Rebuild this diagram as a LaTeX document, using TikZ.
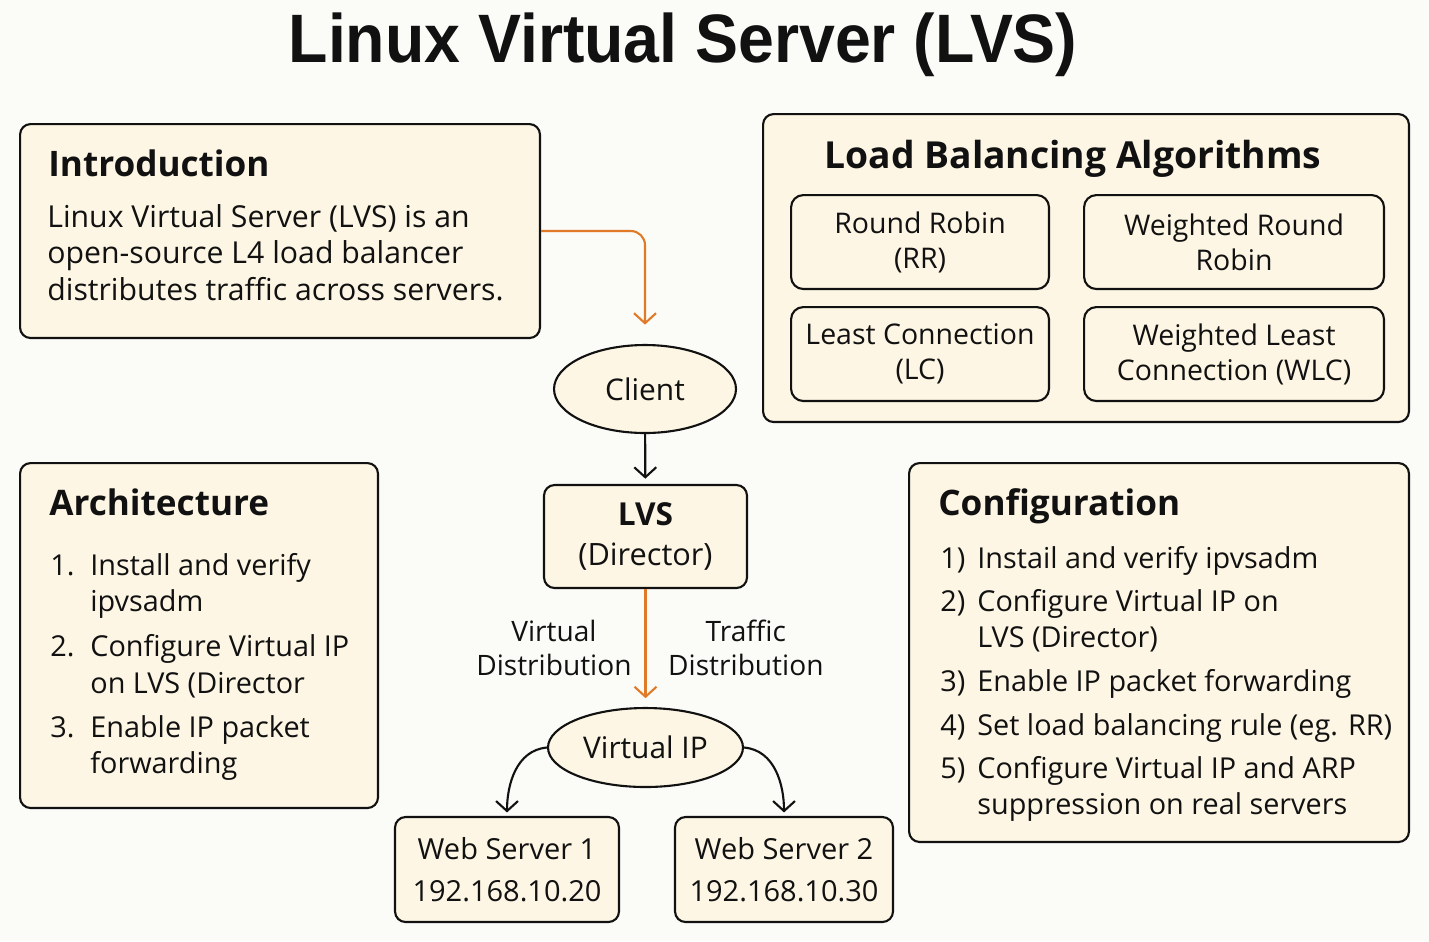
\documentclass[tikz,border=0pt]{standalone}
\usepackage{graphicx}
\usepackage{fontspec}
\setmainfont{Open Sans}
\newfontfamily\titlefont{Liberation Sans}
\usetikzlibrary{positioning, arrows.meta, shapes.geometric, calc}
\definecolor{cream}{RGB}{253,246,228}
\definecolor{paper}{RGB}{251,251,248}
\definecolor{flow}{RGB}{224,122,40}
\definecolor{ink}{RGB}{17,17,17}

\begin{document}
\begin{tikzpicture}[x=0.02cm, y=-0.02cm, font=\fontsize{16.4}{21}\selectfont, text=ink,
  panel/.style={draw=ink, line width=1.2pt, rounded corners=6pt, fill=cream, anchor=north west, inner sep=0pt},
  algbox/.style={draw=ink, line width=1.2pt, rounded corners=7pt, fill=cream, anchor=north west, align=center, inner sep=0pt, font=\fontsize{16.2}{20}\selectfont},
  hub/.style={draw=ink, line width=1.2pt, fill=cream, align=center, inner sep=0pt, font=\fontsize{17}{24}\selectfont},
  head/.style={font=\fontsize{20}{24}\selectfont\bfseries, anchor=base west, inner sep=0pt},
  line/.style={anchor=base west, inner sep=0pt},
  edgelbl/.style={align=center, font=\fontsize{16}{19}\selectfont},
  arrow/.style={-{Straight Barb[length=2mm, width=4.4mm]}, line width=1.2pt, draw=ink},
  flowarrow/.style={arrow, draw=flow}]
  \fill[paper] (0,0) rectangle (1429,941);
  \useasboundingbox (0,0) rectangle (1429,941);

  \node[inner sep=0pt, anchor=base] (title) at (683,62) {\titlefont\bfseries\fontsize{39}{44}\selectfont\scalebox{0.94}[1]{Linux Virtual Server (LVS)}};

  % panels
  \node[panel, minimum width=10.4cm, minimum height=4.28cm] (intro) at (19,123) {};
  \node[panel, minimum width=12.92cm, minimum height=6.16cm] (algo) at (762,113) {};
  \node[panel, minimum width=7.16cm, minimum height=6.9cm] (arch) at (19,462) {};
  \node[panel, minimum width=10cm, minimum height=7.58cm] (config) at (908,462) {};

  \node[head] (introhead) at (48,176) {Introduction};
  \node[line, font=\fontsize{17.2}{21}\selectfont] (intro1) at (47,227) {Linux Virtual Server (LVS) is an};
  \node[line, font=\fontsize{17.2}{21}\selectfont] (intro2) at (47,263) {open-source L4 load balancer};
  \node[line, font=\fontsize{17.2}{21}\selectfont] (intro3) at (47,300) {distributes traffic across servers.};

  \node[head, anchor=base, font=\fontsize{21.2}{24}\selectfont\bfseries] (algohead) at (1073,168) {Load Balancing Algorithms};
  \node[algbox, minimum width=5.16cm, minimum height=1.88cm] (rr) at (790,194) {Round Robin\\(RR)};
  \node[algbox, minimum width=6cm, minimum height=1.88cm] (wrr) at (1083,194) {Weighted Round\\Robin};
  \node[algbox, minimum width=5.16cm, minimum height=1.88cm] (lc) at (790,306) {Least Connection\\(LC)};
  \node[algbox, minimum width=6cm, minimum height=1.88cm] (wlc) at (1083,306) {Weighted Least\\Connection (WLC)};

  \node[head] (archhead) at (49,515) {Architecture};
  \node[line] (archn1) at (50,575) {1.}; \node[line] (arch1a) at (90,575) {Install and verify};
  \node[line] (arch1b) at (90,611) {ipvsadm};
  \node[line] (archn2) at (50,656) {2.}; \node[line] (arch2a) at (90,656) {Configure Virtual IP};
  \node[line] (arch2b) at (90,693) {on LVS (Director};
  \node[line] (archn3) at (50,737) {3.}; \node[line] (arch3a) at (90,737) {Enable IP packet};
  \node[line] (arch3b) at (90,773) {forwarding};

  \node[head] (confhead) at (938,515) {Configuration};
  \node[line] (confn1) at (940,568) {1)}; \node[line] (conf1) at (977,568) {Instail and verify ipvsadm};
  \node[line] (confn2) at (940,611) {2)}; \node[line] (conf2a) at (977,611) {Configure Virtual IP on};
  \node[line] (conf2b) at (977,647) {LVS (Director)};
  \node[line] (confn3) at (940,691) {3)}; \node[line] (conf3) at (977,691) {Enable IP packet forwarding};
  \node[line] (confn4) at (940,735) {4)}; \node[line] (conf4) at (977,735) {Set load balancing rule (eg. RR)};
  \node[line] (confn5) at (940,778) {5)}; \node[line] (conf5a) at (977,778) {Configure Virtual IP and ARP};
  \node[line] (conf5b) at (977,814) {suppression on real servers};

  % traffic path
  \node[hub, ellipse, minimum width=3.64cm, minimum height=1.76cm] (client) at (645,389) {Client};
  \node[hub, rounded corners=6pt, minimum width=4.06cm, minimum height=2.06cm, font=\fontsize{17.5}{22}\selectfont] (lvs) at (645.5,536.5) {{\fontsize{18}{22}\selectfont\bfseries LVS}\\[1pt](Director)};
  \node[hub, ellipse, minimum width=3.9cm, minimum height=1.58cm] (vip) at (645.5,747.5) {Virtual IP};
  \node[hub, rounded corners=6pt, minimum width=4.48cm, minimum height=2.1cm, font=\fontsize{16.5}{24}\selectfont] (ws1) at (507,869.5) {Web Server 1\\192.168.10.20};
  \node[hub, rounded corners=6pt, minimum width=4.36cm, minimum height=2.1cm, font=\fontsize{16.5}{24}\selectfont] (ws2) at (784,869.5) {Web Server 2\\192.168.10.30};

  \draw[flowarrow, rounded corners=8pt, shorten >=11pt] (intro.east) -| (client.north);
  \draw[arrow, shorten >=3pt] (client) -- (lvs);
  \draw[flowarrow, shorten >=5pt] (lvs) -- node[edgelbl, left=4pt] (virtlbl) {Virtual\\Distribution} node[edgelbl, right=9pt] (traflbl) {Traffic\\Distribution} (vip);
  \draw[arrow, shorten >=2pt] (vip.west) to[out=185, in=90] (ws1.north);
  \draw[arrow, shorten >=2pt] (vip.east) to[out=-5, in=90] (ws2.north);
\end{tikzpicture}
\end{document}
